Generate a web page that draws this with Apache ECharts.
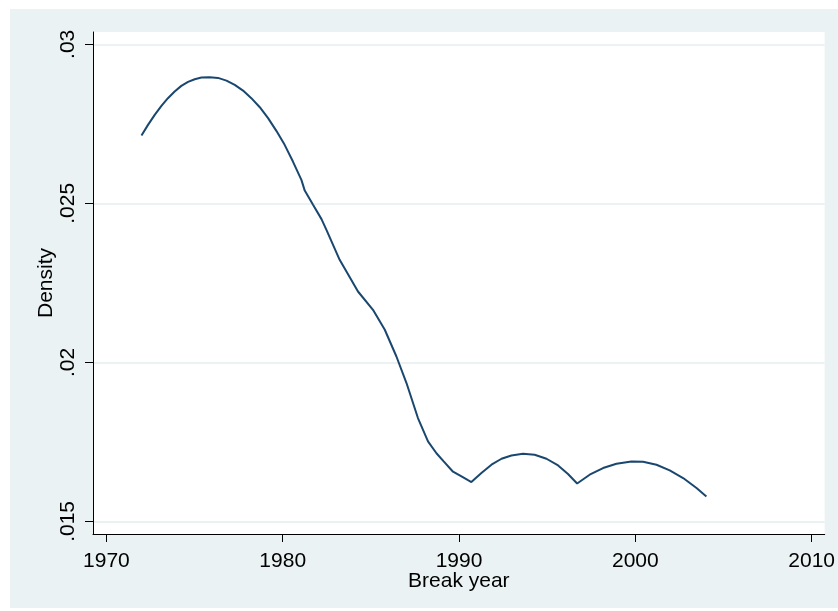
<!DOCTYPE html>
<html>
<head>
<meta charset="utf-8">
<script src="https://cdn.jsdelivr.net/npm/echarts@6/dist/echarts.min.js"></script>
<style>
html,body{margin:0;padding:0;background:#fff;}
#chart{width:838px;height:611px;}
</style>
</head>
<body>
<div id="chart"></div>
<script>
const xTicks = [1970, 1980, 1990, 2000, 2010];
const yTicks = [0.015, 0.02, 0.025, 0.03];
const yTickLabels = ['.015', '.02', '.025', '.03'];

const breakYear = [
  1971.99, 1972.36, 1972.74, 1973.12, 1973.49, 1973.87, 1974.25, 1974.63, 1975.01, 1975.39,
  1975.86, 1976.33, 1976.81, 1977.28, 1977.75, 1978.22, 1978.70, 1979.17, 1979.64, 1980.11,
  1980.58, 1981.06, 1981.25, 1981.72, 1982.20, 1982.48, 1983.23, 1984.27, 1985.12, 1985.79,
  1986.45, 1987.02, 1987.67, 1988.24, 1988.72, 1989.13, 1989.66, 1990.14, 1990.51, 1990.70,
  1991.27, 1991.84, 1992.41, 1992.97, 1993.63, 1994.29, 1994.96, 1995.62, 1996.18, 1996.70,
  1997.41, 1998.17, 1998.93, 1999.78, 2000.44, 2001.20, 2001.95, 2002.71, 2003.47, 2004.03
];
const density = [
  0.027131, 0.027467, 0.027781, 0.028064, 0.028306, 0.028514, 0.028693, 0.028819, 0.028903, 0.028954,
  0.028966, 0.028944, 0.028859, 0.028724, 0.028545, 0.028306, 0.028023, 0.027678, 0.027279, 0.026839,
  0.026314, 0.025739, 0.025400, 0.024953, 0.024504, 0.024167, 0.023225, 0.022228, 0.021653, 0.021025,
  0.020185, 0.019350, 0.018250, 0.017514, 0.017143, 0.016886, 0.016562, 0.016414, 0.016295, 0.016238,
  0.016521, 0.016782, 0.016970, 0.017074, 0.017128, 0.017096, 0.016970, 0.016760, 0.016490, 0.016191,
  0.016468, 0.016678, 0.016813, 0.016886, 0.016876, 0.016782, 0.016603, 0.016364, 0.016050, 0.015786
];

const FONT = "'Liberation Sans', Arial, sans-serif";
const chart = echarts.init(document.getElementById('chart'), null, {renderer: 'canvas'});
const option = {
  backgroundColor: '#ffffff',
  animation: false,
  graphic: [{
    type: 'rect', z: -10, silent: true,
    shape: {x: 10, y: 9, width: 828, height: 599},
    style: {fill: '#EAF2F3'}
  }],
  grid: {
    left: 93, right: 13, top: 32, bottom: 77,
    show: true, backgroundColor: '#ffffff', borderWidth: 0
  },
  xAxis: {
    type: 'value',
    min: 1969.24, max: 2010.74,
    name: 'Break year',
    nameLocation: 'middle',
    nameGap: 37,
    nameMoveOverlap: false,
    nameTextStyle: {fontFamily: FONT, fontSize: 21, color: '#000'},
    axisLine: {show: true, onZero: false, lineStyle: {color: '#000', width: 1}},
    axisTick: {show: true, length: 8, inside: false, customValues: xTicks, lineStyle: {color: '#000', width: 1}},
    axisLabel: {
      customValues: xTicks, fontFamily: FONT, fontSize: 21, color: '#000', margin: 17,
      formatter: function (v) { return String(Math.round(v)); }
    },
    splitLine: {show: false}
  },
  yAxis: {
    type: 'value',
    min: 0.014604, max: 0.030387,
    name: 'Density',
    nameLocation: 'middle',
    nameGap: 36,
    nameMoveOverlap: false,
    nameTextStyle: {fontFamily: FONT, fontSize: 21, color: '#000'},
    axisLine: {show: true, onZero: false, lineStyle: {color: '#000', width: 1}},
    axisTick: {show: true, length: 8, inside: false, customValues: yTicks, lineStyle: {color: '#000', width: 1}},
    axisLabel: {
      customValues: yTicks, rotate: 90, fontFamily: FONT, fontSize: 21, color: '#000', margin: 14,
      formatter: function (v) {
        for (let i = 0; i < yTicks.length; i++) if (Math.abs(yTicks[i] - v) < 1e-9) return yTickLabels[i];
        return '';
      }
    },
    splitLine: {show: true, lineStyle: {color: '#EAF2F3', width: 2}}
  },
  series: [{
    type: 'line',
    data: breakYear.map((x, i) => [x, density[i]]),
    showSymbol: false,
    smooth: false,
    lineStyle: {color: '#1A476F', width: 2},
    z: 5
  }]
};
chart.setOption(option);
</script>
</body>
</html>
